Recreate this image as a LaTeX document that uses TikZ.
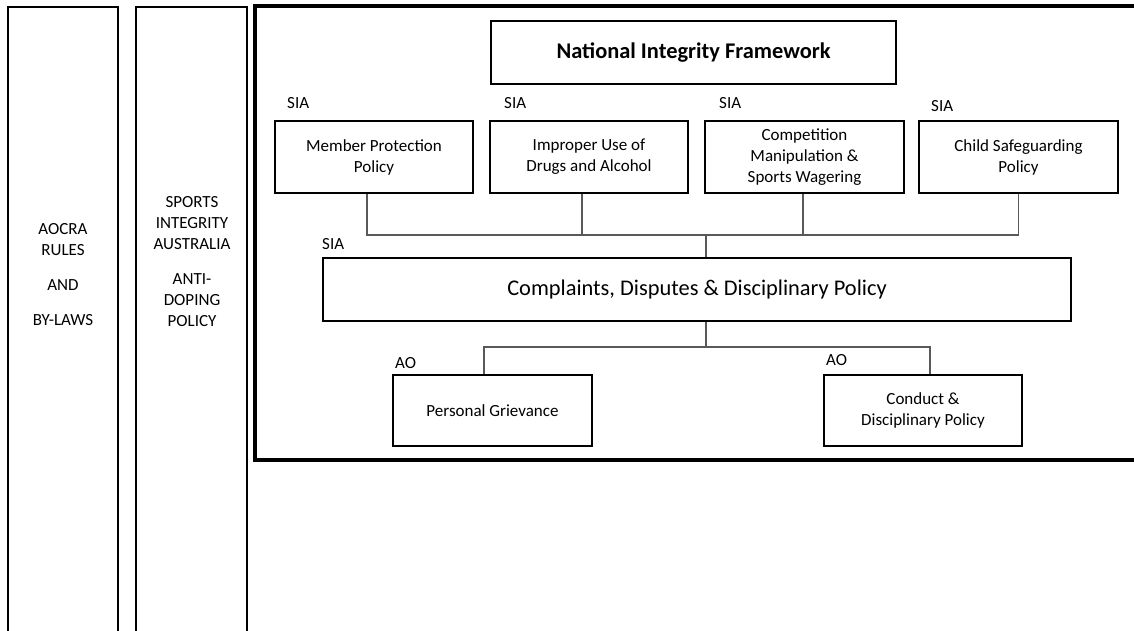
\documentclass[tikz,border=0pt]{standalone}
\usepackage{fontspec}
\setmainfont{Carlito}
\usetikzlibrary{calc,positioning}

\tikzset{
  policy/.style={draw,line width=2.6pt,align=center,inner sep=0pt,
    font=\fontsize{17pt}{21pt}\selectfont},
  tag/.style={anchor=west,inner sep=0pt,font=\fontsize{17pt}{21pt}\selectfont},
  column/.style={line width=2.6pt},
  link/.style={line width=1.3pt,draw=black!65}
}

\begin{document}
\begin{tikzpicture}[x=1pt,y=-1pt]
\useasboundingbox (0,0) rectangle (1134,631);

% side columns and outer frame
\draw[column] (8,650) -- (8,7) -- (118,7) -- (118,650);
\draw[column] (136,650) -- (136,7) -- (247,7) -- (247,650);
\draw[line width=3.2pt] (1150,6) -- (255,6) -- (255,460) -- (1150,460);

\node[align=center,font=\fontsize{17pt}{21pt}\selectfont] (aocra) at (63,275)
  {AOCRA\\RULES\\[14pt]AND\\[14pt]BY-LAWS};
\node[align=center,font=\fontsize{17pt}{21pt}\selectfont] (sia) at (192,262)
  {SPORTS\\INTEGRITY\\AUSTRALIA\\[14pt]ANTI-\\DOPING\\POLICY};

% boxes
\node[policy,minimum width=405,minimum height=63,font=\fontsize{22.4pt}{26pt}\selectfont\bfseries]
  (nif) at (693.5,52.5) {National Integrity Framework};
\node[policy,minimum width=198,minimum height=72] (mpp) at (374,157) {Member Protection\\Policy};
\node[policy,minimum width=198,minimum height=72] (drug) at (589,157) {Improper Use of\\Drugs and Alcohol};
\node[policy,minimum width=199,minimum height=72] (comp) at (804.5,157) {Competition\\Manipulation \&\\Sports Wagering};
\node[policy,minimum width=199,minimum height=72] (child) at (1018.5,157) {Child Safeguarding\\Policy};
\node[policy,minimum width=748,minimum height=63,font=\fontsize{22.4pt}{26pt}\selectfont]
  (cddp) at (697,289.5) {Complaints, Disputes \& Disciplinary Policy};
\node[policy,minimum width=199,minimum height=71] (pg) at (492.5,410.5) {Personal Grievance};
\node[policy,minimum width=198,minimum height=71] (cdp) at (923,410.5) {Conduct \&\\Disciplinary Policy};

% owner tags
\node[tag] (tmpp) at (287,103) {SIA};
\node[tag] (tdrug) at (504,103) {SIA};
\node[tag] (tcomp) at (719,103) {SIA};
\node[tag] (tchild) at (931,106) {SIA};
\node[tag] (tcddp) at (322,244) {SIA};
\node[tag] (tpg) at (395,363) {AO};
\node[tag] (tcdp) at (826,360) {AO};

% connectors
\coordinate (bus) at (706,235);
\coordinate (fork) at (706,347);
\draw[link] ([xshift=-7pt]mpp.south) |- (bus);
\draw[link] ([xshift=-7pt]drug.south) |- (bus);
\draw[link] ([xshift=-1.5pt]comp.south) |- (bus);
\draw[link] (child.south) |- (bus);
\draw[link] (bus) -- (bus |- cddp.north);
\draw[link] (fork |- cddp.south) -- (fork);
\draw[link] (fork) -| ([xshift=-8.5pt]pg.north);
\draw[link] (fork) -| ([xshift=7pt]cdp.north);
\end{tikzpicture}
\end{document}
